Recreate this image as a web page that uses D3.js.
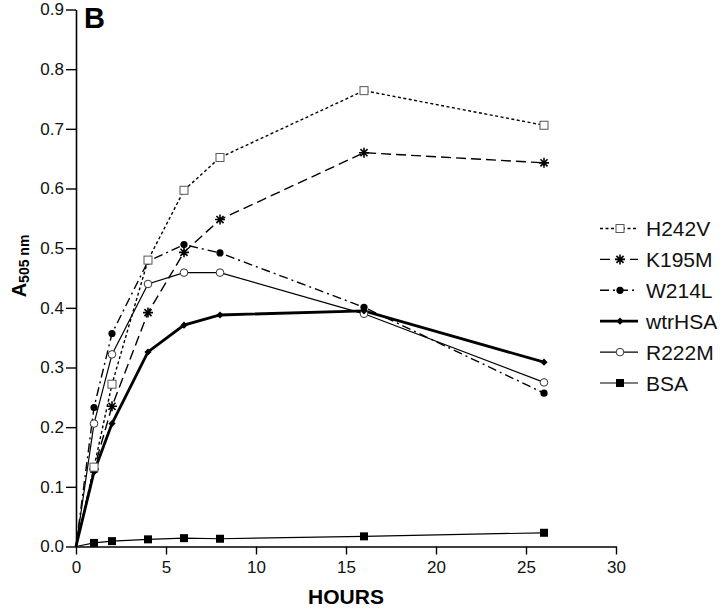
<!DOCTYPE html>
<html><head><meta charset="utf-8">
<script src="https://cdn.jsdelivr.net/npm/d3@7"></script>
<style>body{margin:0;background:#fff}svg{display:block}text{font-family:"Liberation Sans",Arial,sans-serif}</style>
</head><body><svg id="c" width="720" height="610"></svg>
<script>
const hours = [0, 1, 2, 4, 6, 8, 16, 26];
const H242V  = [0, 0.133, 0.272, 0.480, 0.597, 0.652, 0.764, 0.706];
const K195M  = [0, 0.130, 0.235, 0.392, 0.493, 0.548, 0.660, 0.643];
const W214L  = [0, 0.233, 0.357, 0.478, 0.506, 0.492, 0.401, 0.257];
const wtrHSA = [0, 0.125, 0.206, 0.326, 0.371, 0.388, 0.395, 0.309];
const R222M  = [0, 0.206, 0.322, 0.440, 0.459, 0.459, 0.390, 0.275];
const BSA    = [0, 0.006, 0.009, 0.012, 0.014, 0.013, 0.017, 0.023];
const xTicks = [0, 5, 10, 15, 20, 25, 30];
const yTicks = [0, 0.1, 0.2, 0.3, 0.4, 0.5, 0.6, 0.7, 0.8, 0.9];

const series = [
  {name:"H242V", v:H242V, dash:"3,2.5", w:1.4, mk:"osq"},
  {name:"K195M", v:K195M, dash:"10,5", w:1.4, mk:"star"},
  {name:"W214L", v:W214L, dash:"9,4,2,4", w:1.4, mk:"fcirc"},
  {name:"wtrHSA", v:wtrHSA, dash:null, w:2.8, mk:"diam"},
  {name:"R222M", v:R222M, dash:null, w:1.2, mk:"ocirc"},
  {name:"BSA", v:BSA, dash:null, w:1.2, mk:"fsq"}
];

const svg = d3.select("#c");
const x = d3.scaleLinear().domain([0,30]).range([76,616]);
const y = d3.scaleLinear().domain([0,0.9]).range([546.5,9.5]);

const gx = svg.append("g").attr("transform","translate(0,546.5)")
  .call(d3.axisBottom(x).tickValues(xTicks).tickSize(8).tickSizeOuter(0).tickPadding(6).tickFormat(d3.format("d")));
const gy = svg.append("g").attr("transform","translate(76,0)")
  .call(d3.axisLeft(y).tickValues(yTicks).tickSize(10).tickSizeOuter(0).tickPadding(2).tickFormat(d3.format(".1f")));
[gx,gy].forEach(g=>{
  g.select(".domain").attr("stroke","#000").attr("stroke-width",1.6);
  g.selectAll(".tick line").attr("stroke","#000").attr("stroke-width",1.4);
  g.selectAll(".tick text").attr("font-size",17).attr("fill","#111").attr("font-family","Liberation Sans, Arial, sans-serif");
});

function marker(g, type, cx, cy){
  if(type==="osq") g.append("rect").attr("x",cx-4).attr("y",cy-4).attr("width",8).attr("height",8).attr("fill","#fff").attr("stroke","#555").attr("stroke-width",1);
  else if(type==="fsq") g.append("rect").attr("x",cx-4).attr("y",cy-4).attr("width",8).attr("height",8).attr("fill","#000");
  else if(type==="fcirc") g.append("circle").attr("cx",cx).attr("cy",cy).attr("r",3.6).attr("fill","#000");
  else if(type==="ocirc") g.append("circle").attr("cx",cx).attr("cy",cy).attr("r",3.8).attr("fill","#fff").attr("stroke","#333").attr("stroke-width",1);
  else if(type==="diam") g.append("path").attr("d",`M${cx},${cy-3.6}L${cx+3.6},${cy}L${cx},${cy+3.6}L${cx-3.6},${cy}Z`).attr("fill","#000");
  else if(type==="star"){
    const r=5; let d="";
    for(let i=0;i<4;i++){const a=i*Math.PI/4; d+=`M${cx-r*Math.cos(a)},${cy-r*Math.sin(a)}L${cx+r*Math.cos(a)},${cy+r*Math.sin(a)}`;}
    g.append("path").attr("d",d).attr("stroke","#000").attr("stroke-width",1.6);
  }
}

const line = d3.line().x(d=>x(d[0])).y(d=>y(d[1]));
series.forEach(s=>{
  const pts = hours.map((h,i)=>[h,s.v[i]]);
  svg.append("path").attr("d",line(pts)).attr("fill","none").attr("stroke","#000")
    .attr("stroke-width",s.w).attr("stroke-dasharray",s.dash);
});
series.slice().reverse().forEach(s=>{
  const g = svg.append("g");
  hours.forEach((h,i)=>{ if(h>0) marker(g,s.mk,x(h),y(s.v[i])); });
});

series.forEach((s,i)=>{
  const ly = 228.5 + i*30.9;
  const g = svg.append("g");
  g.append("line").attr("x1",600).attr("x2",638).attr("y1",ly).attr("y2",ly).attr("stroke","#000")
    .attr("stroke-width",s.w).attr("stroke-dasharray",s.dash);
  marker(g,s.mk,620,ly);
  g.append("text").attr("x",646).attr("y",ly+7.5).attr("font-size",21).attr("fill","#111").text(s.name);
});

svg.append("text").attr("x",84).attr("y",28).attr("font-size",29).attr("font-weight","bold").text("B");
svg.append("text").attr("x",x(15)).attr("y",604).attr("text-anchor","middle").attr("font-size",21).attr("font-weight","bold").text("HOURS");
const yl = svg.append("text").attr("transform","translate(26,266) rotate(-90)").attr("text-anchor","middle").attr("font-weight","bold");
yl.append("tspan").attr("font-size",20).text("A");
yl.append("tspan").attr("font-size",14).attr("dy",3).text("505 nm");
</script></body></html>
